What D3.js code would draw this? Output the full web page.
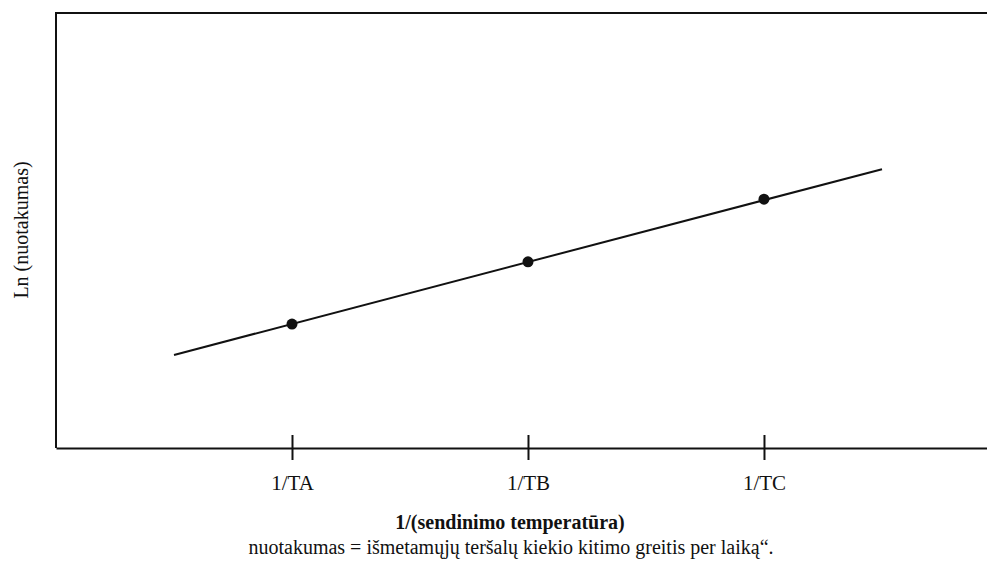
<!DOCTYPE html>
<html>
<head>
<meta charset="utf-8">
<script src="https://cdn.jsdelivr.net/npm/d3@7"></script>
<style>
  body { margin: 0; background: #fff; }
  text { font-family: "Liberation Serif", "DejaVu Serif", serif; fill: #111; }
</style>
</head>
<body>
<div id="chart"></div>
<script>
// categories on the x axis (1/T)
const categories = ["1/TA", "1/TB", "1/TC"]
const catX = [1, 2, 3]
// measured points, ln(nuotakumas)
const pointY = [2.85, 4.28, 5.72]
// fitted line ends
const lineX = [0.5, 3.5]
const lineY = [2.14, 6.41]

const margin = { top: 13, right: 0, bottom: 114, left: 56 }
const width = 987 - margin.left - margin.right
const height = 562 - margin.top - margin.bottom

const svg = d3.select("#chart").append("svg")
    .attr("width", 987)
    .attr("height", 562)
  .append("g")
    .attr("transform", "translate(" + margin.left + "," + margin.top + ")")

const xPositionScale = d3.scaleLinear()
  .domain([0, 3.945])
  .range([0, width])

const yPositionScale = d3.scaleLinear()
  .domain([0, 10])
  .range([height, 0])

// frame: left and top edges
svg.append("path")
  .attr("d", "M0," + height + "V0H" + width)
  .attr("fill", "none")
  .attr("stroke", "#111")
  .attr("stroke-width", 2)

const xAxis = d3.axisBottom(xPositionScale)
  .tickValues(catX)
  .tickFormat((d, i) => categories[i])
  .tickSize(0)

const gx = svg.append("g")
  .attr("class", "axis x-axis")
  .attr("transform", "translate(0," + height + ")")
  .call(xAxis)
gx.select(".domain").attr("stroke", "#111").attr("stroke-width", 2)
gx.selectAll(".tick line").remove()
gx.selectAll(".tick").append("line")
  .attr("y1", -13).attr("y2", 12)
  .attr("stroke", "#111").attr("stroke-width", 2)
gx.selectAll(".tick text")
  .attr("y", 27)
  .attr("font-size", 21)
  .attr("font-family", "Liberation Serif")
  .attr("fill", "#111")

const line = d3.line()
  .x(d => xPositionScale(d[0]))
  .y(d => yPositionScale(d[1]))

svg.append("path")
  .datum(d3.zip(lineX, lineY))
  .attr("d", line)
  .attr("fill", "none")
  .attr("stroke", "#111")
  .attr("stroke-width", 2)

svg.selectAll("circle")
  .data(d3.zip(catX, pointY))
  .join("circle")
  .attr("cx", d => xPositionScale(d[0]))
  .attr("cy", d => yPositionScale(d[1]))
  .attr("r", 5.5)
  .attr("fill", "#111")

svg.append("text")
  .attr("x", 510 - margin.left)
  .attr("y", 529 - margin.top)
  .attr("text-anchor", "middle")
  .attr("font-size", 20)
  .attr("font-weight", "bold")
  .text("1/(sendinimo temperatūra)")

svg.append("text")
  .attr("x", 511 - margin.left)
  .attr("y", 554 - margin.top)
  .attr("text-anchor", "middle")
  .attr("font-size", 20)
  .text("nuotakumas = išmetamųjų teršalų kiekio kitimo greitis per laiką“.")

svg.append("text")
  .attr("transform", "translate(" + (28 - margin.left) + "," + (230 - margin.top) + ") rotate(-90)")
  .attr("text-anchor", "middle")
  .attr("font-size", 20)
  .text("Ln (nuotakumas)")
</script>
</body>
</html>
